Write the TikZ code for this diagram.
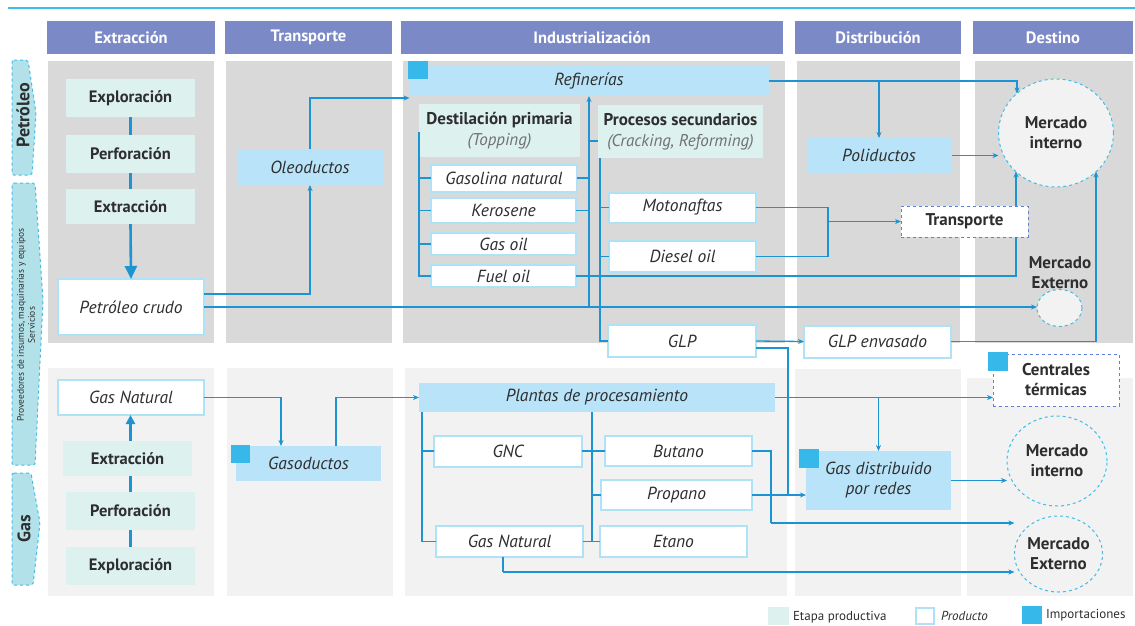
\documentclass[tikz,border=0pt]{standalone}
\usepackage{fontspec}
\setmainfont{PT Sans}
\usetikzlibrary{arrows.meta,shapes.geometric}
\definecolor{headblue}{HTML}{7B89C6}
\definecolor{panelgray}{HTML}{D9D9D9}
\definecolor{panellight}{HTML}{F2F2F2}
\definecolor{stagemint}{HTML}{DDF1EF}
\definecolor{ductblue}{HTML}{B8E3F8}
\definecolor{prodedge}{HTML}{B0E2F7}
\definecolor{linkblue}{HTML}{1B94D1}
\definecolor{importblue}{HTML}{36B8EA}
\definecolor{ringcyan}{HTML}{3DBDE8}
\definecolor{dashblue}{HTML}{5B84D8}
\definecolor{tabcyan}{HTML}{B3E1EA}
\definecolor{inkgray}{HTML}{2E2E2E}
\definecolor{notegray}{HTML}{707070}

\begin{document}
\begin{tikzpicture}[x=1pt, y=-1pt, >={Stealth[length=6pt,width=5pt]},
  every node/.style={inner sep=0pt, outer sep=0pt, text=inkgray, align=center},
  header/.style={fill=headblue, text=white, font=\fontsize{16.5}{19}\selectfont\bfseries, minimum height=33pt},
  stage/.style={fill=stagemint, font=\fontsize{16.5}{19}\selectfont\bfseries, minimum width=129pt},
  product/.style={fill=white, draw=prodedge, line width=2pt, font=\fontsize{17.5}{20}\selectfont\itshape},
  duct/.style={fill=ductblue, font=\fontsize{17.5}{20}\selectfont\itshape},
  impsq/.style={fill=importblue, minimum width=20pt, minimum height=18pt},
  market/.style={ellipse, draw=ringcyan, dashed, line width=1pt, fill=panellight, font=\fontsize{17}{20}\selectfont\bfseries},
  hub/.style={draw=dashblue, dashed, line width=1pt, fill=white, font=\fontsize{17}{20}\selectfont\bfseries},
  sidetab/.style={fill=tabcyan, draw=ringcyan, dashed, line width=1pt, rounded corners=2pt},
  link/.style={draw=linkblue, line width=1.3pt},
  spine/.style={draw=linkblue, line width=2.6pt},
]
  \useasboundingbox (0,0) rectangle (1135,625);

  % top rule
  \draw[ringcyan, line width=2pt] (8,8) -- (1135,8);

  % column headers
  \node[header, minimum width=168pt] (hExt) at (131,37.5) {Extracción};
  \node[header, minimum width=167pt] (hTra) at (308.5,37.5) {Transporte};
  \node[header, minimum width=382pt] (hInd) at (592,37.5) {Industrialización};
  \node[header, minimum width=166pt] (hDis) at (878,37.5) {Distribución};
  \node[header, minimum width=160pt] (hDes) at (1053,37.5) {Destino};

  % panels, petróleo row
  \fill[panelgray] (48,61) rectangle (214,343);
  \fill[panelgray] (226,61) rectangle (392,343);
  \fill[panelgray] (403,61) rectangle (785,343);
  \fill[panelgray] (797,61) rectangle (960,343);
  \fill[panelgray] (975,61) rectangle (1133,343);
  % panels, gas row
  \fill[panellight] (48,368) rectangle (214,596);
  \fill[panellight] (227,368) rectangle (393,596);
  \fill[panellight] (405,368) rectangle (787,596);
  \fill[panellight] (795,369) rectangle (961,596);
  \fill[panellight] (967,378) rectangle (1133,596);

  % side tabs
  \filldraw[sidetab] (12,60) -- (28,60) -- (36,113) -- (32,175) -- (12,175) -- cycle;
  \node[rotate=90, font=\fontsize{18}{20}\selectfont\bfseries] (tabPet) at (23,115) {Petróleo};
  \filldraw[sidetab] (12,183) -- (35,183) -- (43,300) -- (35,465) -- (12,465) -- cycle;
  \node[rotate=90, font=\fontsize{9.5}{11}\selectfont] (tabProv) at (26,325) {Proveedores de insumos, maquinarias y equipos\\Servicios};
  \filldraw[sidetab] (12,473) -- (31,473) -- (40,523) -- (33,585) -- (12,585) -- cycle;
  \node[rotate=90, font=\fontsize{18}{20}\selectfont\bfseries] (tabGas) at (24,529) {Gas};

  % Petróleo: extracción
  \node[stage, minimum height=38pt] (explP) at (130.5,98) {Exploración};
  \node[stage, minimum height=38pt] (perfP) at (130.5,154) {Perforación};
  \node[stage, minimum height=35pt] (extrP) at (130.5,206.5) {Extracción};
  \node[product, minimum width=146pt, minimum height=56pt] (crudo) at (131,307) {Petróleo crudo};

  % Petróleo: transporte
  \node[duct, minimum width=146pt, minimum height=36pt] (oleo) at (310,167) {Oleoductos};

  % Petróleo: industrialización
  \node[duct, minimum width=359pt, minimum height=30pt] (refin) at (589,81) {Refinerías};
  \node[impsq] (impRef) at (418,70) {};
  \node[fill=stagemint, minimum width=161pt, minimum height=53pt, font=\fontsize{17}{21}\selectfont] (destil) at (499.5,130.5)
    {\textbf{Destilación primaria}\\{\color{notegray}\itshape (Topping)}};
  \node[fill=stagemint, minimum width=165pt, minimum height=53pt, font=\fontsize{17}{21}\selectfont] (procsec) at (680.5,131.5)
    {\textbf{Procesos secundarios}\\{\color{notegray}\itshape (Cracking, Reforming)}};
  \node[product, minimum width=146pt, minimum height=27pt] (gasnat) at (504,178) {Gasolina natural};
  \node[product, minimum width=145pt, minimum height=25pt] (keros) at (503.5,210.5) {Kerosene};
  \node[product, minimum width=145pt, minimum height=22pt] (gasoil) at (503.5,244) {Gas oil};
  \node[product, minimum width=145pt, minimum height=22pt] (fueloil) at (503.5,276) {Fuel oil};
  \node[product, minimum width=147pt, minimum height=30pt] (motonaf) at (682.5,207.5) {Motonaftas};
  \node[product, minimum width=147pt, minimum height=31pt] (diesel) at (682.5,256.5) {Diesel oil};
  \node[product, minimum width=148pt, minimum height=32pt] (glp) at (682,341) {GLP};

  % Petróleo: distribución y destino
  \node[duct, minimum width=145pt, minimum height=35pt] (polid) at (879,155.5) {Poliductos};
  \node[hub, minimum width=127pt, minimum height=31pt] (transp) at (964.5,221.5) {Transporte};
  \node[product, minimum width=147pt, minimum height=32pt] (glpenv) at (877.5,341.5) {GLP envasado};
  \node[market, minimum width=115pt, minimum height=108pt] (minta) at (1056,133) {Mercado\\interno};
  \node[market, minimum width=45pt, minimum height=37pt] (mext1) at (1059.5,308) {};
  \node[font=\fontsize{17}{20}\selectfont\bfseries] (mext1lbl) at (1060,273) {Mercado\\Externo};

  % Gas: extracción
  \node[product, minimum width=146pt, minimum height=35pt] (gnleft) at (131,397.5) {Gas Natural};
  \node[stage, minimum height=35pt] (extrG) at (127.5,458.5) {Extracción};
  \node[stage, minimum height=38pt] (perfG) at (130.5,511) {Perforación};
  \node[stage, minimum height=38pt] (explG) at (130.5,566) {Exploración};

  % Gas: transporte
  \node[duct, minimum width=145pt, minimum height=35pt] (gasod) at (308.5,463.5) {Gasoductos};
  \node[impsq, minimum width=19pt] (impGas) at (240.5,454) {};

  % Gas: industrialización
  \node[duct, minimum width=356pt, minimum height=29pt] (plantas) at (597,397.5) {Plantas de procesamiento};
  \node[product, minimum width=148pt, minimum height=31pt] (gnc) at (508,451) {GNC};
  \node[product, minimum width=147pt, minimum height=31pt] (gnmid) at (509.5,541.5) {Gas Natural};
  \node[product, minimum width=147pt, minimum height=30pt] (butano) at (678.5,451) {Butano};
  \node[product, minimum width=151pt, minimum height=30pt] (propano) at (676.5,495) {Propano};
  \node[product, minimum width=147pt, minimum height=31pt] (etano) at (673.5,541.5) {Etano};

  % Gas: distribución y destino
  \node[duct, minimum width=145pt, minimum height=59pt] (gasred) at (878.5,480.5) {Gas distribuido\\por redes};
  \node[impsq, minimum height=19pt] (impRed) at (809,458) {};
  \node[hub, minimum width=126pt, minimum height=52pt] (centr) at (1056,380) {Centrales\\térmicas};
  \node[impsq, minimum height=19pt] (impCen) at (998,361.5) {};
  \node[market, minimum width=100pt, minimum height=90pt] (minti) at (1057,461) {Mercado\\interno};
  \node[market, minimum width=83pt, minimum height=76pt] (mextb) at (1058.5,554) {Mercado\\Externo};

  % links, petróleo extracción
  \draw[spine] (explP.south) -- (perfP.north);
  \draw[spine] (perfP.south) -- (extrP.north);
  \draw[spine, -{Triangle[length=13pt,width=12pt]}] (extrP.south) -- (crudo.north);

  % crudo to oleoductos, refinerías and mercado externo
  \draw[link,->] ([yshift=13pt]crudo.east) -| (oleo.south);
  \draw[link,->] (oleo.north) |- ([yshift=-2pt]refin.south west);
  \draw[link,->] (crudo.east) -- (crudo.east -| mext1.west);
  \draw[link,->] (refin.south |- crudo.east) -- (refin.south);
  \draw[link] (gasnat.east) -- (gasnat.east -| refin.south);
  \draw[link] (keros.east) -- (keros.east -| refin.south);
  \coordinate (psStub) at ([yshift=-9.5pt]procsec.west);
  \draw[link] (psStub -| refin.south) -- (psStub);

  % destilación primaria bracket
  \draw[link] ([yshift=-1.5pt]destil.west) |- (fueloil.west);
  \foreach \p in {gasnat,keros,gasoil}
    \draw[link] (destil.west |- \p.west) -- (\p.west);

  % procesos secundarios bracket
  \coordinate (psFoot) at (600,158);
  \draw[link] (psFoot) |- (glp.west);
  \foreach \p in {motonaf,diesel}
    \draw[link] (psFoot |- \p.west) -- (\p.west);

  % refinerías to poliductos and mercado interno
  \draw[link,->] (refin.east) -| ([shift={(-39,-39.5)}]minta.center);
  \draw[link,->] (polid.north |- refin.east) -- (polid.north);
  \draw[link,->] (polid.east) -- (polid.east -| minta.west);

  % combustibles to transporte
  \coordinate (fuelJ) at (828,221.5);
  \draw[link] (motonaf.east) -| (fuelJ) |- (diesel.east);
  \draw[link,->] (fuelJ) -- (transp.west);
  \draw[link] (fueloil.east) -| ([xshift=51.5pt]transp.south);
  \draw[link,->] ([xshift=51.5pt]transp.north) -- ([shift={(-40,38.5)}]minta.center);

  % GLP
  \draw[link,->] (glp.east) -- (glpenv.west);
  \draw[link,->] (glpenv.east) -| ([shift={(40,38.5)}]minta.center);
  \coordinate (redJ) at (788,495);
  \draw[link] ([yshift=-7pt]glp.east) -| (redJ);

  % links, gas extracción
  \draw[spine] (explG.north) -- (perfG.south);
  \draw[spine] (perfG.north) -- (perfG.north |- extrG.south);
  \draw[spine, -{Triangle[length=9pt,width=9pt]}] (perfG.north |- extrG.north) -- (perfG.north |- gnleft.south);
  \draw[link,->] (gnleft.east) -| ([xshift=-27.5pt]gasod.north);
  \draw[link,->] ([xshift=27.5pt]gasod.north) |- (plantas.west);

  % plantas brackets
  \coordinate (plL) at ([xshift=3pt]plantas.south west);
  \coordinate (plM) at ([xshift=-5pt]plantas.south);
  \draw[link] (plL) |- (gnmid.west);
  \draw[link] (plL |- gnc.west) -- (gnc.west);
  \draw[link] (plM) |- (etano.west);
  \draw[link] (gnc.east) -- (butano.west);
  \draw[link] (plM |- propano.west) -- (propano.west);
  \draw[link] (gnmid.east) -- (plM |- gnmid.east);

  % gas products to destino
  \draw[link,->] (propano.east) -- (propano.east -| gasred.west);
  \coordinate (butJ) at (771,523);
  \draw[link] (butano.east) -| (butJ);
  \draw[link,->] (butJ) -- (butJ -| mextb.west);
  \coordinate (gnJ) at (503,572);
  \draw[link] ([xshift=-6.5pt]gnmid.south) -- (gnJ);
  \draw[link,->] (gnJ) -- (gnJ -| mextb.west);
  \draw[link,->] (plantas.east) -- (plantas.east -| centr.west);
  \draw[link,->] (gasred.north |- plantas.east) -- (gasred.north);
  \draw[link,->] (gasred.east) -- (gasred.east -| minti.west);

  % legend
  \node[fill=stagemint, minimum width=21pt, minimum height=18pt] (lgStage) at (778.5,616) {};
  \node[anchor=west, font=\fontsize{13}{15}\selectfont] (lgStageTx) at (793,617) {Etapa productiva};
  \node[fill=white, draw=prodedge, line width=2pt, minimum width=18pt, minimum height=16pt] (lgProd) at (925,616) {};
  \node[anchor=west, font=\fontsize{13}{15}\selectfont\itshape] (lgProdTx) at (941,616) {Producto};
  \node[impsq] (lgImp) at (1032,615) {};
  \node[anchor=west, font=\fontsize{13}{15}\selectfont] (lgImpTx) at (1046,615) {Importaciones};
\end{tikzpicture}
\end{document}
